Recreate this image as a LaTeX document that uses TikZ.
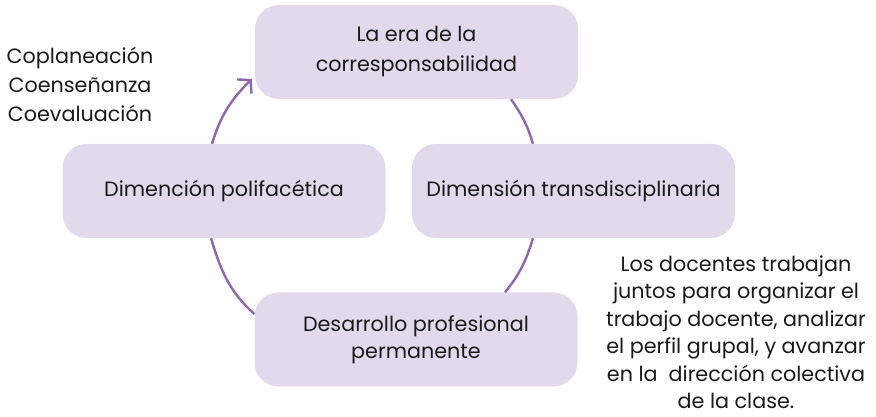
\documentclass[tikz,border=0pt]{standalone}
\usepackage{fontspec}
\setmainfont{Poppins}
\usetikzlibrary{arrows.meta}
\definecolor{lila}{HTML}{E2D9EC}
\definecolor{morado}{HTML}{9166AE}
\definecolor{texto}{HTML}{1A1A1A}
\begin{document}
\begin{tikzpicture}[x=1pt,y=1pt,
			caja/.style={rectangle, rounded corners=24pt, fill=lila, minimum width=323pt,
			minimum height=94pt, align=center, text=texto, font=\fontsize{20.7}{30}\selectfont},
			nota/.style={align=center, text=texto, font=\fontsize{20.7}{27.5}\selectfont},
			ciclo/.style={morado, line width=2.4pt},
			flecha/.style={ciclo, -{Straight Barb[length=9pt,width=20pt,line width=2.4pt]}}]

			\useasboundingbox (0,0) rectangle (876,417);

			% drawing boxes
			\node[caja] (era) at (416.5,365) {La era de la\\corresponsabilidad};
			\node[caja] (pol) at (224,226) {Dimención polifacética};
			\node[caja] (trans) at (573.5,226) {Dimensión transdisciplinaria};
			\node[caja] (des) at (416,77.5) {\raisebox{-3pt}{Desarrollo profesional}\\permanente};

			% drawing notes
			\node[nota, font=\fontsize{20.7}{29}\selectfont] (co) at (80,333) {Coplaneación\\Coenseñanza\\Coevaluación};
			\node[nota] (txt) at (736,85) {Los docentes trabajan\\juntos para organizar el\\trabajo docente, analizar\\el perfil grupal, y avanzar\\en la\ \ dirección colectiva\\de la clase.};

			% drawing cycle
			\draw[ciclo] ([xshift=94.5pt]era.south) to[out=-55,in=107] ([xshift=-40.5pt]trans.north);
			\draw[ciclo] ([xshift=-40.5pt]trans.south) to[out=-107,in=51] ([xshift=89pt]des.north);
			\draw[ciclo] ([yshift=25.5pt]des.west) to[out=138,in=-73] ([xshift=-13pt]pol.south);
			\draw[flecha] ([xshift=-12pt]pol.north) to[out=73,in=-135] ([shift={(-3pt,-27pt)}]era.west);

		\end{tikzpicture}
\end{document}
